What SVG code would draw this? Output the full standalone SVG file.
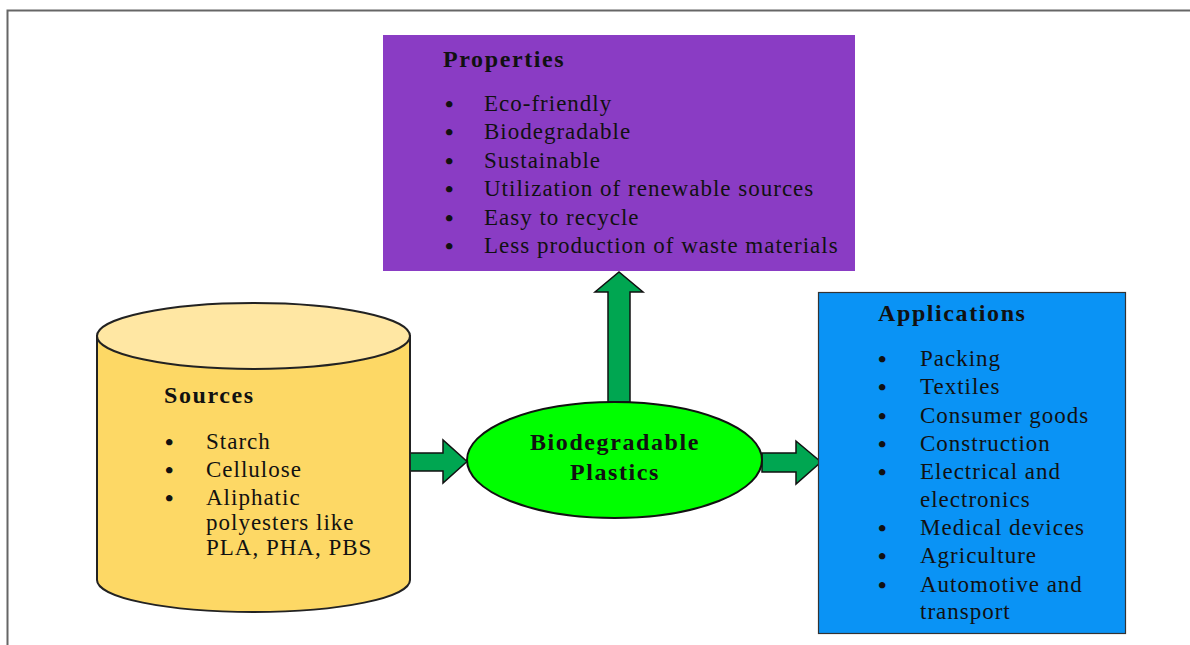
<svg xmlns="http://www.w3.org/2000/svg" width="1190" height="645" viewBox="0 0 1190 645">
<style>
text{font-family:"Liberation Serif","Times New Roman",serif;fill:#111}
.t{font-size:24px;font-weight:bold;letter-spacing:1.6px}
.i{font-size:23px;letter-spacing:1px}
.b text{font-size:24px;font-weight:bold}
.arrow{fill:#00A651;stroke:#111;stroke-width:1.5;stroke-linejoin:miter}
</style>
<rect x="0" y="0" width="1190" height="645" fill="#fff"/>
<path d="M7.5 645 V10.5 H1190" fill="none" stroke="#666" stroke-width="2"/>
<g id="connectors">
<path class="arrow" d="M608 402 V292 H595 L619 272 L643 292 H630 V402 Z"/>
<path class="arrow" d="M410 453 H443 V440 L467 461.5 L443 483 V471 H410 Z"/>
<path class="arrow" d="M762 453 H796 V441 L821 462 L796 484 V472 H762 Z"/>
</g>
<g id="properties">
<rect x="383" y="35" width="472" height="236" fill="#8A3CC4"/>
<text class="t" x="443" y="67">Properties</text>
<g class="b"><text x="445" y="112">•</text><text x="445" y="140">•</text><text x="445" y="169">•</text><text x="445" y="197">•</text><text x="445" y="226">•</text><text x="445" y="254">•</text></g>
<text class="i" x="484" y="111">Eco-friendly</text>
<text class="i" x="484" y="139">Biodegradable</text>
<text class="i" x="484" y="168">Sustainable</text>
<text class="i" x="484" y="196">Utilization of renewable sources</text>
<text class="i" x="484" y="225">Easy to recycle</text>
<text class="i" x="484" y="253">Less production of waste materials</text>
</g>
<g id="sources">
<path d="M97 336 V580 A156.5 32 0 0 0 410 580 V336 Z" fill="#FDD865" stroke="#222" stroke-width="2"/>
<ellipse cx="253.5" cy="336" rx="156.5" ry="33" fill="#FFE7A3" stroke="#222" stroke-width="2"/>
<text class="t" x="164" y="403">Sources</text>
<g class="b"><text x="165" y="450">•</text><text x="165" y="478">•</text><text x="165" y="506">•</text></g>
<text class="i" x="206" y="449">Starch</text>
<text class="i" x="206" y="477">Cellulose</text>
<text class="i" x="206" y="505">Aliphatic</text>
<text class="i" x="206" y="530">polyesters like</text>
<text class="i" x="206" y="555">PLA, PHA, PBS</text>
</g>
<g id="plastics">
<ellipse cx="614.5" cy="460" rx="147.5" ry="58" fill="#00FF00" stroke="#111" stroke-width="2"/>
<text class="t" x="615" y="450" text-anchor="middle">Biodegradable</text>
<text class="t" x="615" y="480" text-anchor="middle">Plastics</text>
</g>
<g id="applications">
<rect x="818.5" y="292.5" width="307" height="341" fill="#0A93F5" stroke="#333" stroke-width="1.2"/>
<text class="t" x="878" y="321">Applications</text>
<g class="b"><text x="878" y="367">•</text><text x="878" y="395">•</text><text x="878" y="424">•</text><text x="878" y="452">•</text><text x="878" y="480">•</text><text x="878" y="536">•</text><text x="878" y="564">•</text><text x="878" y="593">•</text></g>
<text class="i" x="920" y="366">Packing</text>
<text class="i" x="920" y="394">Textiles</text>
<text class="i" x="920" y="423">Consumer goods</text>
<text class="i" x="920" y="451">Construction</text>
<text class="i" x="920" y="479">Electrical and</text>
<text class="i" x="920" y="507">electronics</text>
<text class="i" x="920" y="535">Medical devices</text>
<text class="i" x="920" y="563">Agriculture</text>
<text class="i" x="920" y="592">Automotive and</text>
<text class="i" x="920" y="619">transport</text>
</g>
</svg>
